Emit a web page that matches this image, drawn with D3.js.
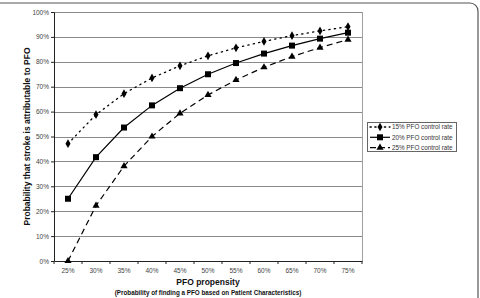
<!DOCTYPE html>
<html>
<head>
<meta charset="utf-8">
<script src="https://cdn.jsdelivr.net/npm/d3@7"></script>
<style>
  body { margin: 0; background: #fff; }
  svg { display: block; font-family: Arial, "Liberation Sans", sans-serif; }
</style>
</head>
<body>
<svg id="chart" width="480" height="298"></svg>
<script>
// propensity categories (x axis)
var propensity = ["25%", "30%", "35%", "40%", "45%", "50%", "55%", "60%", "65%", "70%", "75%"];

// probability that stroke is attributable to PFO
var rate15 = [0.471, 0.588, 0.672, 0.735, 0.784, 0.824, 0.856, 0.882, 0.905, 0.924, 0.941];
var rate20 = [0.250, 0.417, 0.536, 0.625, 0.694, 0.750, 0.795, 0.833, 0.865, 0.893, 0.917];
var rate25 = [0.000, 0.222, 0.381, 0.500, 0.593, 0.667, 0.727, 0.778, 0.821, 0.857, 0.889];

var yTicks = [0, 0.1, 0.2, 0.3, 0.4, 0.5, 0.6, 0.7, 0.8, 0.9, 1.0];

var seriesNames = ["15% PFO control rate", "20% PFO control rate", "25% PFO control rate"];

var series = [
  {name: seriesNames[0], values: rate15, dash: "1.3,4.2", width: 1.3, cap: "round", shape: d3.symbolDiamond, size: 22},
  {name: seriesNames[1], values: rate20, dash: null, width: 1.2, cap: "butt", shape: d3.symbolSquare, size: 36},
  {name: seriesNames[2], values: rate25, dash: "6,4", width: 1.2, cap: "butt", shape: d3.symbolTriangle, size: 22}
];

var svg = d3.select("#chart"),
    margin = {top: 12, right: 118, bottom: 37, left: 54},
    width = +svg.attr("width") - margin.left - margin.right,
    height = +svg.attr("height") - margin.top - margin.bottom;

// outer rounded frame (left and bottom edges run off the picture)
svg.append("rect")
    .attr("x", -10).attr("y", 3)
    .attr("width", 488).attr("height", 320)
    .attr("rx", 8)
    .attr("fill", "none")
    .attr("stroke", "#555")
    .attr("stroke-width", 1.2);

var g = svg.append("g").attr("transform", "translate(" + margin.left + "," + margin.top + ")");

var x = d3.scaleBand()
    .domain(propensity)
    .range([0, width]);

var y = d3.scaleLinear()
    .domain([0, 1])
    .range([height, 0]);

// gridlines
g.append("g")
  .selectAll("line")
  .data(yTicks.slice(1))
  .enter().append("line")
    .attr("x1", 0).attr("x2", width)
    .attr("y1", function(d) { return Math.round(y(d)) + 0.5; })
    .attr("y2", function(d) { return Math.round(y(d)) + 0.5; })
    .attr("stroke", "#8a8a8a")
    .attr("stroke-width", 1);

// right border of plot
g.append("line")
    .attr("x1", width + 0.5).attr("x2", width + 0.5)
    .attr("y1", y(1)).attr("y2", height)
    .attr("stroke", "#a0a0a0");

// y axis
var yAxis = g.append("g")
    .call(d3.axisLeft(y).tickValues(yTicks).tickFormat(d3.format(".0%")).tickSize(3).tickPadding(2));
yAxis.select(".domain").attr("stroke", "#222");
yAxis.selectAll(".tick line").attr("stroke", "#222");
yAxis.selectAll("text").attr("font-size", 6.5).attr("fill", "#444").attr("font-family", "Arial, 'Liberation Sans', sans-serif");

// x axis: ticks sit between categories
var xAxis = g.append("g")
    .attr("transform", "translate(0," + height + ")")
    .call(d3.axisBottom(x).tickSize(0).tickPadding(7));
xAxis.select(".domain").attr("stroke", "#222");
xAxis.selectAll("text").attr("font-size", 6.5).attr("fill", "#444").attr("font-family", "Arial, 'Liberation Sans', sans-serif");
xAxis.append("g")
  .selectAll("line")
  .data(d3.range(propensity.length + 1))
  .enter().append("line")
    .attr("x1", function(i) { return i * x.step(); })
    .attr("x2", function(i) { return i * x.step(); })
    .attr("y1", 0).attr("y2", 3)
    .attr("stroke", "#222");

// lines and markers
var line = d3.line()
    .x(function(d, i) { return x(propensity[i]) + x.bandwidth() / 2; })
    .y(function(d) { return y(d); });

series.forEach(function(s) {
  g.append("path")
      .datum(s.values)
      .attr("fill", "none")
      .attr("stroke", "#000")
      .attr("stroke-width", s.width)
      .attr("stroke-linecap", s.cap)
      .attr("stroke-dasharray", s.dash)
      .attr("d", line);

  g.append("g")
    .selectAll("path")
    .data(s.values)
    .enter().append("path")
      .attr("transform", function(d, i) {
        return "translate(" + (x(propensity[i]) + x.bandwidth() / 2) + "," + y(d) + ")";
      })
      .attr("d", d3.symbol().type(s.shape).size(s.size))
      .attr("fill", "#000");
});

// axis titles
svg.append("text")
    .attr("transform", "translate(30," + (margin.top + height / 2) + ") rotate(-90)")
    .attr("text-anchor", "middle")
    .attr("font-size", 8.5)
    .attr("font-weight", "bold")
    .attr("fill", "#111")
    .text("Probability that stroke is attributable to PFO");

svg.append("text")
    .attr("x", margin.left + width / 2)
    .attr("y", 285)
    .attr("text-anchor", "middle")
    .attr("font-size", 8.5)
    .attr("font-weight", "bold")
    .attr("fill", "#111")
    .text("PFO propensity");

svg.append("text")
    .attr("x", margin.left + width / 2)
    .attr("y", 295)
    .attr("text-anchor", "middle")
    .attr("font-size", 6.3)
    .attr("font-weight", "bold")
    .attr("fill", "#111")
    .text("(Probability of finding a PFO based on Patient Characteristics)");

// legend
var legend = svg.append("g").attr("transform", "translate(367,122)");
legend.append("rect")
    .attr("x", 0.5).attr("y", 0.5)
    .attr("width", 89).attr("height", 29)
    .attr("fill", "#fff")
    .attr("stroke", "#666");

var item = legend.selectAll("g.item")
  .data(series)
  .enter().append("g")
    .attr("class", "item")
    .attr("transform", function(d, i) { return "translate(0," + (5 + i * 10.3) + ")"; });

item.append("line")
    .attr("x1", 3).attr("x2", 23)
    .attr("y1", 0).attr("y2", 0)
    .attr("stroke", "#000")
    .attr("stroke-width", function(d) { return d.width; })
    .attr("stroke-linecap", function(d) { return d.cap; })
    .attr("stroke-dasharray", function(d) { return d.dash ? (d.dash === "6,4" ? "6,3" : "1.3,3.5") : null; });

item.append("path")
    .attr("transform", "translate(13,0)")
    .attr("d", function(d) { return d3.symbol().type(d.shape).size(d.size)(); })
    .attr("fill", "#000");

item.append("text")
    .attr("x", 25)
    .attr("y", 0)
    .attr("dy", "0.35em")
    .attr("font-size", 6.3)
    .attr("fill", "#333")
    .text(function(d) { return d.name; });
</script>
</body>
</html>
